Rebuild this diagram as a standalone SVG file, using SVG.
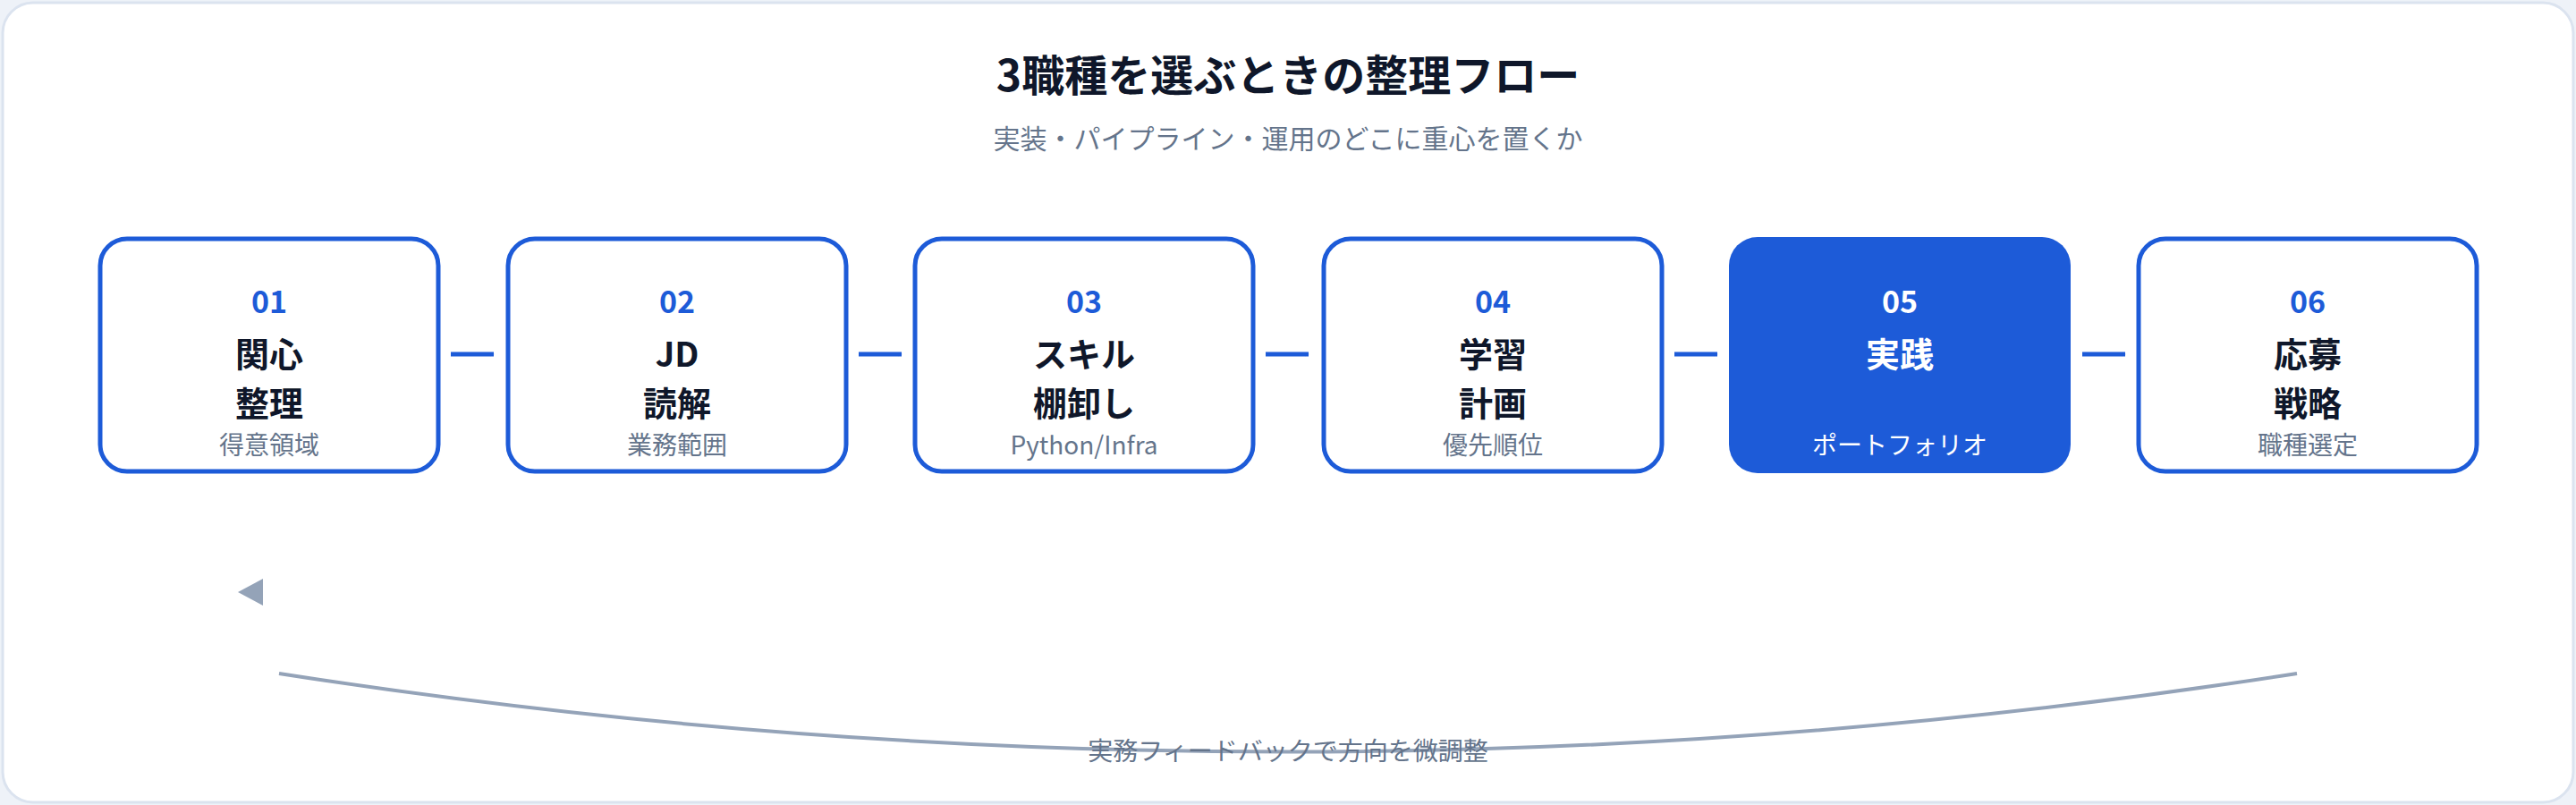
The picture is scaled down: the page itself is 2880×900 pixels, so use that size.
<svg xmlns="http://www.w3.org/2000/svg" width="2880" height="900" viewBox="0 0 2880 900">
<style>
text{font-family:"Noto Sans CJK JP","Noto Sans",sans-serif;text-anchor:middle}
.box{fill:#fff;stroke:#1d5bd8;stroke-width:5}
.num{fill:#1d5bd8;font-size:34px;font-weight:700}
.ttl{fill:#0f172a;font-size:38px;font-weight:700}
.sub{fill:#64748b;font-size:28px}
.con{stroke:#1d5bd8;stroke-width:5;fill:none}
</style>
<defs>
<marker id="ah" viewBox="0 0 10 10" refX="9" refY="5" markerWidth="5" markerHeight="5" markerUnits="userSpaceOnUse" orient="auto"><path d="M0 0L10 5L0 10z" fill="#1d5bd8"/></marker>
</defs>
<rect width="2880" height="900" fill="#eef2f8"/>
<rect x="3" y="3" width="2874" height="894" rx="34" fill="#fff" stroke="#dbe3ef" stroke-width="3"/>
<text x="1440" y="102" style="font-size:48px;font-weight:700;fill:#0f172a">3職種を選ぶときの整理フロー</text>
<text x="1440" y="166" style="font-size:30px;fill:#64748b">実装・パイプライン・運用のどこに重心を置くか</text>
<g id="n1"><rect class="box" x="112" y="267" width="378" height="260" rx="30"/><text class="num" x="301" y="350">01</text><text class="ttl" x="301" y="410">関心</text><text class="ttl" x="301" y="465">整理</text><text class="sub" x="301" y="508">得意領域</text></g>
<g id="n2"><rect class="box" x="568" y="267" width="378" height="260" rx="30"/><text class="num" x="757" y="350">02</text><text class="ttl" x="757" y="410">JD</text><text class="ttl" x="757" y="465">読解</text><text class="sub" x="757" y="508">業務範囲</text></g>
<g id="n3"><rect class="box" x="1023" y="267" width="378" height="260" rx="30"/><text class="num" x="1212" y="350">03</text><text class="ttl" x="1212" y="410">スキル</text><text class="ttl" x="1212" y="465">棚卸し</text><text class="sub" x="1212" y="508">Python/Infra</text></g>
<g id="n4"><rect class="box" x="1480" y="267" width="378" height="260" rx="30"/><text class="num" x="1669" y="350">04</text><text class="ttl" x="1669" y="410">学習</text><text class="ttl" x="1669" y="465">計画</text><text class="sub" x="1669" y="508">優先順位</text></g>
<g id="n5"><rect x="1933" y="265" width="382" height="264" rx="32" fill="#1d5bd8"/><text class="num" x="2124" y="350" fill="#fff" style="fill:#fff">05</text><text class="ttl" x="2124" y="410" style="fill:#fff">実践</text><text class="sub" x="2124" y="508" style="fill:#fff">ポートフォリオ</text></g>
<g id="n6"><rect class="box" x="2391" y="267" width="378" height="260" rx="30"/><text class="num" x="2580" y="350">06</text><text class="ttl" x="2580" y="410">応募</text><text class="ttl" x="2580" y="465">戦略</text><text class="sub" x="2580" y="508">職種選定</text></g>
<g id="connectors">
<path class="con" d="M504 396H552" marker-end="url(#ah)"/>
<path class="con" d="M960 396H1008" marker-end="url(#ah)"/>
<path class="con" d="M1415 396H1463" marker-end="url(#ah)"/>
<path class="con" d="M1872 396H1920" marker-end="url(#ah)"/>
<path class="con" d="M2328 396H2376" marker-end="url(#ah)"/>
<path d="M2568 753Q1440 928 312 753" fill="none" stroke="#94a3b8" stroke-width="4"/>
<polygon points="266,662 294,647 294,677" fill="#94a3b8"/>
<text x="1440" y="850" style="font-size:28px;fill:#64748b">実務フィードバックで方向を微調整</text>
</g>
</svg>
